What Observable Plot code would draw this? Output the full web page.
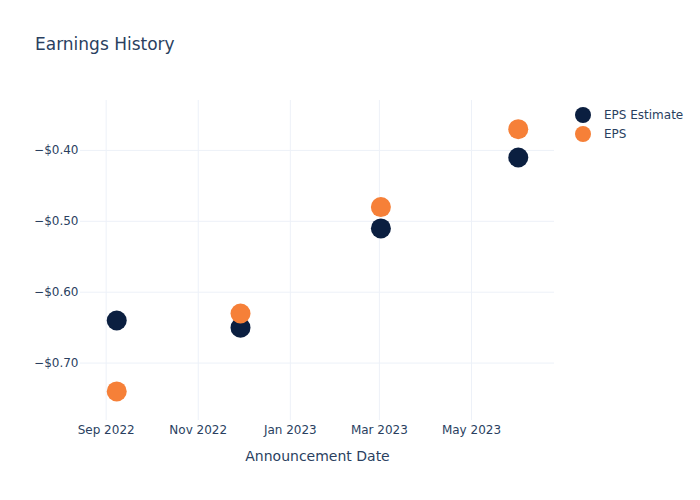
<!DOCTYPE html>
<html>
<head>
<meta charset="utf-8">
<script src="https://cdn.jsdelivr.net/npm/d3@7"></script>
<script src="https://cdn.jsdelivr.net/npm/@observablehq/plot@0.6"></script>
<style>
  html, body { margin: 0; padding: 0; background: #fff; }
  #wrap { position: relative; width: 700px; height: 500px; font-family: "DejaVu Sans", sans-serif; color: #2a3f5f; }
  #title { position: absolute; left: 35px; top: 33px; font-size: 17px; line-height: 22px; }
  #legend { position: absolute; left: 575px; top: 105px; font-size: 12px; }
  .item { display: flex; align-items: center; height: 19px; }
  .sw { width: 16px; height: 16px; border-radius: 50%; margin-right: 13px; }
</style>
</head>
<body>
<div id="wrap">
  <div id="title">Earnings History</div>
  <div id="legend"></div>
</div>
<script>
const dates = ["2022-09-08", "2022-11-29", "2023-03-02", "2023-06-01"];
const epsEstimate = [-0.64, -0.65, -0.51, -0.41];
const eps = [-0.74, -0.63, -0.48, -0.37];
const seriesNames = ["EPS Estimate", "EPS"];
const seriesColors = ["#0b1f40", "#f68038"];
const xTicks = ["2022-09-01", "2022-11-01", "2023-01-01", "2023-03-01", "2023-05-01"];
const yTicks = [-0.7, -0.6, -0.5, -0.4];
const xDomain = ["2022-08-15", "2023-06-25"];
const yDomain = [-0.781, -0.3296];

const rows = [];
seriesNames.forEach((name, s) => {
  const vals = s === 0 ? epsEstimate : eps;
  dates.forEach((d, i) => rows.push({date: new Date(d), value: vals[i], series: name}));
});

const fmtY = d => (d < 0 ? "\u2212" : "") + "$" + Math.abs(d).toFixed(2);

const chart = Plot.plot({
  width: 700,
  height: 500,
  marginLeft: 80,
  marginRight: 146,
  marginTop: 100,
  marginBottom: 80,
  style: {fontFamily: "DejaVu Sans, sans-serif", color: "#2a3f5f", background: "transparent"},
  x: {type: "utc", domain: xDomain.map(d => new Date(d))},
  y: {domain: yDomain},
  color: {domain: seriesNames, range: seriesColors},
  marks: [
    Plot.gridX(xTicks.map(d => new Date(d)), {stroke: "#edf1f8", strokeOpacity: 1, strokeWidth: 1}),
    Plot.gridY(yTicks, {stroke: "#edf1f8", strokeOpacity: 1, strokeWidth: 1}),
    Plot.axisX(xTicks.map(d => new Date(d)), {tickSize: 0, tickPadding: 5, tickFormat: d3.utcFormat("%b %Y"), label: null, fontSize: 12, fill: "#2a3f5f"}),
    Plot.axisY(yTicks, {tickSize: 0, tickPadding: 2, tickFormat: fmtY, label: null, fontSize: 12, fill: "#2a3f5f"}),
    Plot.text(["Announcement Date"], {frameAnchor: "bottom", dy: 40, fontSize: 14, fill: "#2a3f5f"}),
    Plot.dot(rows, {x: "date", y: "value", fill: "series", r: 10, stroke: "none"})
  ]
});
document.getElementById("wrap").prepend(chart);
chart.style.position = "absolute";
chart.style.left = "0";
chart.style.top = "0";

const legend = document.getElementById("legend");
seriesNames.forEach((name, i) => {
  const it = document.createElement("div");
  it.className = "item";
  const sw = document.createElement("div");
  sw.className = "sw";
  sw.style.background = seriesColors[i];
  const lab = document.createElement("span");
  lab.textContent = name;
  it.appendChild(sw); it.appendChild(lab);
  legend.appendChild(it);
});
</script>
</body>
</html>
